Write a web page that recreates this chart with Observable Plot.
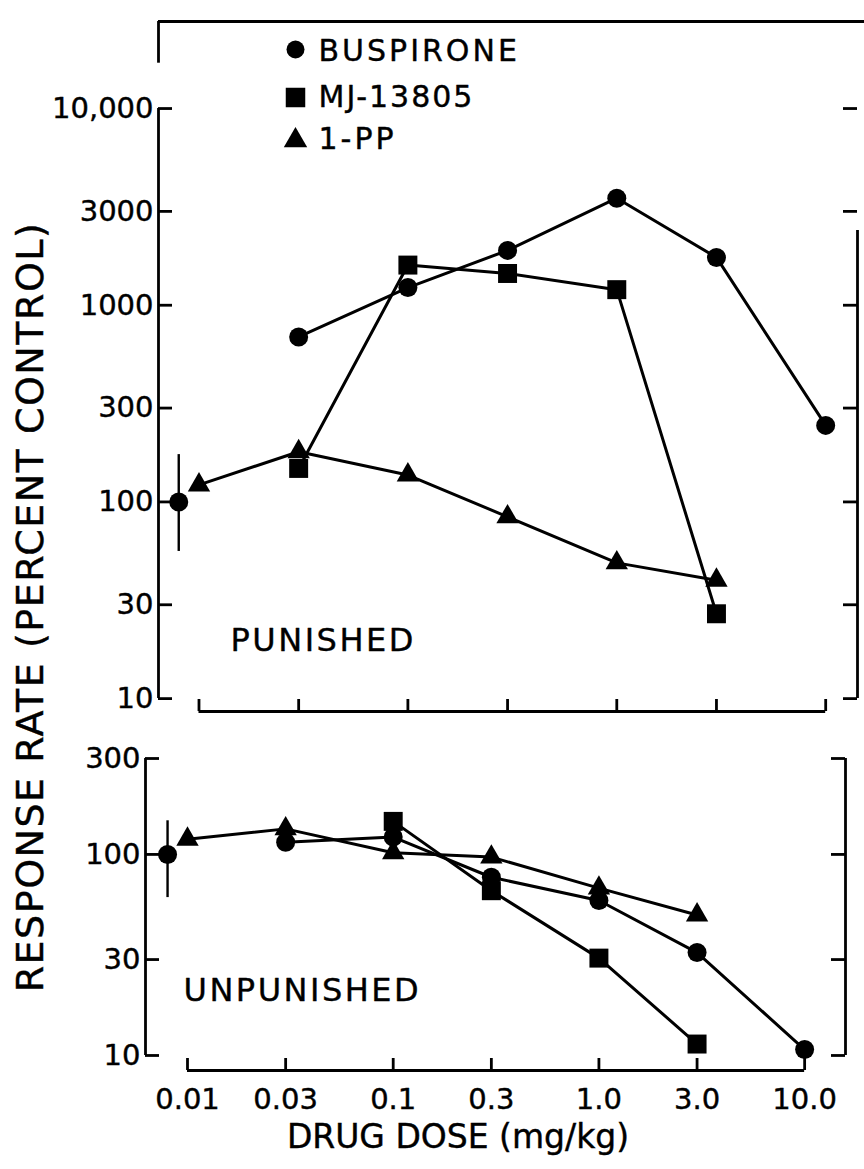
<!DOCTYPE html>
<html><head><meta charset="utf-8">
<script src="https://cdn.jsdelivr.net/npm/d3@7"></script>
<script src="https://cdn.jsdelivr.net/npm/@observablehq/plot@0.6"></script>
<style>
body{margin:0;background:#fff;}
#page{position:relative;width:864px;height:1169px;overflow:hidden;background:#fff;font-family:"DejaVu Sans",sans-serif;color:#000;}
#top{position:absolute;left:0;top:0;}
#bot{position:absolute;left:0;top:730px;}
#ytitle{position:absolute;left:-370px;top:587px;width:800px;height:40px;line-height:40px;text-align:center;font-size:38px;letter-spacing:1.5px;transform:rotate(-90deg);white-space:nowrap;-webkit-text-stroke:0.4px #000;}
#xtitle{position:absolute;left:258px;top:1117px;width:400px;text-align:center;font-size:33px;white-space:nowrap;line-height:normal;-webkit-text-stroke:0.4px #000;}
</style></head>
<body>
<div id="page">
  <div id="top"></div>
  <div id="bot"></div>
  <div id="ytitle">RESPONSE RATE (PERCENT CONTROL)</div>
  <div id="xtitle">DRUG DOSE (mg/kg)</div>
</div>
<script>
// ---- data ----
const doses = [0.01, 0.03, 0.1, 0.3, 1.0, 3.0, 10.0];
const doseLabels = ["0.01", "0.03", "0.1", "0.3", "1.0", "3.0", "10.0"];
const drugs = ["Buspirone", "MJ-13805", "1-PP"];
const legendNames = ["BUSPIRONE", "MJ-13805", "1-PP"];

const controlDose = 0.008;
const controlValue = 100;
const controlErrPunished = [56, 174];
const controlErrUnpunished = [61, 147];

// PUNISHED
const punBuspDose = [0.03, 0.1, 0.3, 1.0, 3.0, 10.0];
const punBuspVal  = [690, 1230, 1900, 3500, 1750, 245];
const punMJDose   = [0.03, 0.1, 0.3, 1.0, 3.0];
const punMJVal    = [148, 1600, 1450, 1200, 27];
const punPPDose   = [0.01, 0.03, 0.1, 0.3, 1.0, 3.0];
const punPPVal    = [122, 180, 137, 84, 49, 40];

// UNPUNISHED
const unpBuspDose = [0.03, 0.1, 0.3, 1.0, 3.0, 10.0];
const unpBuspVal  = [115, 122, 77, 59, 32.5, 10.7];
const unpMJDose   = [0.1, 0.3, 1.0, 3.0];
const unpMJVal    = [146, 66, 30.5, 11.4];
const unpPPDose   = [0.01, 0.03, 0.1, 0.3, 1.0, 3.0];
const unpPPVal    = [119, 134, 102, 97, 68, 50];

const topTicks = [10, 30, 100, 300, 1000, 3000, 10000];
const topTickLabels = ["10", "30", "100", "300", "1000", "3000", "10,000"];
const botTicks = [10, 30, 100, 300];
const botTickLabels = ["10", "30", "100", "300"];

// axis extents (scale domains)
const topXDomain = [0.0064, 14.2];
const topYDomain = [8.6, 27700];
const botXDomain = [0.00625, 15.8];
const botYDomain = [8.42, 300];

// ---- tables ----
const rows = (drug, ds, vs) => ds.map((d, i) => ({drug, dose: d, value: vs[i]}));
const punished = [
  ...rows("Buspirone", punBuspDose, punBuspVal),
  ...rows("MJ-13805", punMJDose, punMJVal),
  ...rows("1-PP", punPPDose, punPPVal)
];
const unpunished = [
  ...rows("Buspirone", unpBuspDose, unpBuspVal),
  ...rows("MJ-13805", unpMJDose, unpMJVal),
  ...rows("1-PP", unpPPDose, unpPPVal)
];

const symbolOf = {"Buspirone": "circle", "MJ-13805": "square", "1-PP": "triangle"};
const rOf = {"Buspirone": 9.5, "MJ-13805": 10.7, "1-PP": 8.3};
const FONT = "DejaVu Sans";
const SW = 2.8;
const TXT = {fontFamily: FONT, fill: "black", stroke: "black", strokeWidth: 0.4};

function dataMarks(table, err) {
  return [
    Plot.line(table, {x: "dose", y: "value", z: "drug", stroke: "black", strokeWidth: 3}),
    Plot.ruleX([controlDose], {x: d => d, y1: () => err[0], y2: () => err[1], stroke: "black", strokeWidth: 2.4}),
    ...drugs.map(dr => Plot.dot(table.filter(r => r.drug === dr),
      {x: "dose", y: "value", symbol: symbolOf[dr], r: rOf[dr], fill: "black", stroke: "none"})),
    Plot.dot([controlValue], {x: () => controlDose, y: d => d, r: 9.5, fill: "black", stroke: "none"})
  ];
}

function axisMarks(o) {
  const fw = o.width - o.marginLeft - o.marginRight;
  const fh = o.height - o.marginTop - o.marginBottom;
  const [x0, x1] = o.xDomain, [y0] = o.yDomain;
  return [
    Plot.ruleX([x0], {x: d => d, y1: () => o.ticks[0], y2: () => o.ticks[o.ticks.length - 1], strokeWidth: SW}),
    Plot.ruleX([x1], {x: d => d, y1: () => o.ticks[0], y2: () => o.rightTop, strokeWidth: SW}),
    Plot.ruleY([y0], {y: d => d, x1: () => doses[0], x2: () => doses[doses.length - 1], strokeWidth: SW}),
    Plot.tickY(o.ticks, {y: d => d, insetRight: fw - 14, strokeWidth: SW}),
    Plot.tickY(o.ticks, {y: d => d, insetLeft: fw - 14, strokeWidth: SW}),
    Plot.tickX(doses, {x: d => d, insetTop: fh - 12, strokeWidth: SW}),
    Plot.text(o.ticks, {y: d => d, text: (d, i) => o.tickLabels[i], frameAnchor: "left", lineAnchor: "middle",
      textAnchor: "end", dx: -5, fontSize: 29, ...TXT})
  ];
}

// ---- top panel (PUNISHED) ----
const topOpts = {width: 864, height: 730, marginLeft: 158, marginRight: 7, marginTop: 21, marginBottom: 19,
  xDomain: topXDomain, yDomain: topYDomain, ticks: topTicks, tickLabels: topTickLabels, rightTop: 2400};
const topPlot = Plot.plot({
  width: topOpts.width, height: topOpts.height,
  marginLeft: topOpts.marginLeft, marginRight: topOpts.marginRight,
  marginTop: topOpts.marginTop, marginBottom: topOpts.marginBottom,
  style: {background: "white", fontFamily: FONT, color: "black"},
  x: {type: "log", domain: topXDomain, axis: null},
  y: {type: "log", domain: topYDomain, axis: null},
  marks: [
    ...axisMarks(topOpts),
    Plot.ruleY([topYDomain[1]], {y: d => d, x1: () => topXDomain[0], x2: () => 16, strokeWidth: SW}),
    Plot.ruleX([topXDomain[0]], {x: d => d, y1: () => topYDomain[1], y2: () => 17000, strokeWidth: SW}),
    ...dataMarks(punished, controlErrPunished),
    ...legendNames.map((name, i) => Plot.dot([name], {frameAnchor: "top-left", dx: 137, dy: [28, 76, 119][i],
      symbol: symbolOf[drugs[i]], r: [9, 11, 8.7][i], fill: "black", stroke: "none"})),
    ...legendNames.map((name, i) => Plot.text([name], {text: d => d, frameAnchor: "top-left", lineAnchor: "middle",
      textAnchor: "start", dx: 160, dy: [30, 76, 118][i], fontSize: 30, ...TXT})),
    Plot.text(["PUNISHED"], {text: d => d, frameAnchor: "bottom-left", lineAnchor: "middle", textAnchor: "start",
      dx: 72, dy: -71, fontSize: 32, ...TXT})
  ]
});
document.getElementById("top").append(topPlot);

// ---- bottom panel (UNPUNISHED) ----
const botOpts = {width: 864, height: 380, marginLeft: 145, marginRight: 19, marginTop: 28, marginBottom: 40,
  xDomain: botXDomain, yDomain: botYDomain, ticks: botTicks, tickLabels: botTickLabels, rightTop: 300};
const botPlot = Plot.plot({
  width: botOpts.width, height: botOpts.height,
  marginLeft: botOpts.marginLeft, marginRight: botOpts.marginRight,
  marginTop: botOpts.marginTop, marginBottom: botOpts.marginBottom,
  style: {background: "white", fontFamily: FONT, color: "black", overflow: "visible"},
  x: {type: "log", domain: botXDomain, axis: null},
  y: {type: "log", domain: botYDomain, axis: null},
  marks: [
    ...axisMarks(botOpts),
    Plot.text(doses, {x: d => d, text: (d, i) => doseLabels[i], frameAnchor: "bottom", lineAnchor: "middle", dy: 29,
      fontSize: 29, ...TXT}),
    ...dataMarks(unpunished, controlErrUnpunished),
    Plot.text(["UNPUNISHED"], {text: d => d, frameAnchor: "bottom-left", lineAnchor: "middle", textAnchor: "start",
      dx: 38, dy: -80, fontSize: 32, ...TXT})
  ]
});
document.getElementById("bot").append(botPlot);

// letter spacing for the wide-set labels
d3.selectAll("#page svg text").each(function() {
  const t = this.textContent;
  if (legendNames.includes(t)) this.setAttribute("letter-spacing", t === "MJ-13805" ? "2" : "3");
  if (t === "PUNISHED" || t === "UNPUNISHED") this.setAttribute("letter-spacing", "2.5");
});
</script>
</body></html>
